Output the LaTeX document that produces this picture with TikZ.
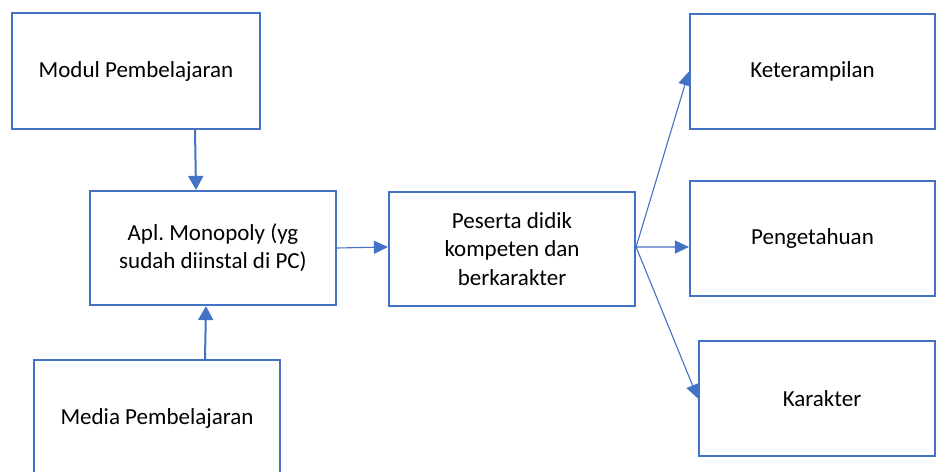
\documentclass[tikz,border=0pt]{standalone}
\usepackage{fontspec}
\setmainfont{Carlito}
\usetikzlibrary{arrows.meta}
\definecolor{offblue}{HTML}{4472C4}
\frenchspacing
\begin{document}
\begin{tikzpicture}[x=1bp,y=-1bp,
  box/.style={draw=offblue, line width=2.2bp, rectangle, inner sep=0pt, align=center,
    font=\fontsize{23bp}{28.3bp}\selectfont},
  thickarrow/.style={draw=offblue, line width=2bp, -{Triangle[length=14bp,width=15bp]}},
  thinarrow/.style={draw=offblue, line width=1.1bp, -{Triangle[length=14bp,width=13bp]}}]
\useasboundingbox (0,0) rectangle (936,472);
\begin{scope}
\clip (0,0) rectangle (936,472);
\node[box, minimum width=248bp, minimum height=116bp] (modul) at (136,71) {Modul Pembelajaran};
\node[box, minimum width=246bp, minimum height=114bp] (apl) at (213,248) {Apl.\ Monopoly (yg\\sudah diinstal di PC)};
\node[box, minimum width=246bp, minimum height=116bp] (media) at (157,418) {Media Pembelajaran};
\node[box, minimum width=246bp, minimum height=114bp] (pes) at (512,249) {Peserta didik\\kompeten dan\\berkarakter};
\node[box, minimum width=245bp, minimum height=115bp] (ket) at (812.5,71.5) {Keterampilan};
\node[box, minimum width=245bp, minimum height=115bp] (pen) at (812.5,238.5) {Pengetahuan};
\node[box, minimum width=236bp, minimum height=115bp] (kar) at (817,398.5) {\hspace*{10bp}Karakter};
\draw[thickarrow] ([xshift=59bp]modul.south) -- ([xshift=-17bp]apl.north);
\draw[thickarrow] ([xshift=48bp]media.north) -- ([xshift=-7bp]apl.south);
\draw[thinarrow] (apl.east) -- ([yshift=2bp]pes.west);
\draw[thinarrow] ([yshift=2bp]pes.east) -- (ket.west);
\draw[thinarrow] ([yshift=2bp]pes.east) -- ([yshift=-8.5bp]pen.west);
\draw[thinarrow] ([yshift=2bp]pes.east) -- (kar.west);
\end{scope}
\end{tikzpicture}
\end{document}
